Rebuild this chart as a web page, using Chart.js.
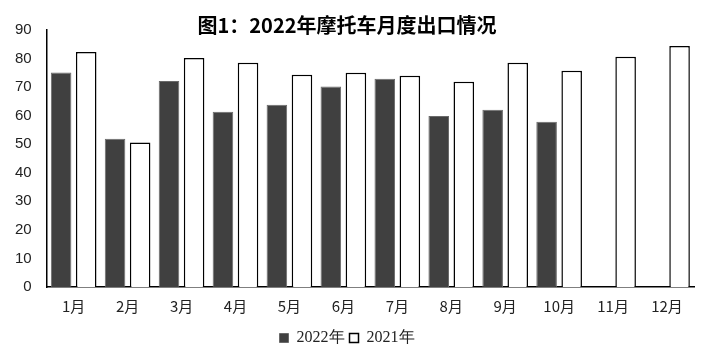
<!DOCTYPE html>
<html>
<head>
<meta charset="utf-8">
<script src="https://cdn.jsdelivr.net/npm/chart.js@4"></script>
<style>
  body { margin: 0; background: #fff; }
  #wrap { width: 702px; height: 361px; }
</style>
</head>
<body>
<div id="wrap"><canvas id="myChart" width="702" height="361"></canvas></div>
<script>
  const months = ["1月", "2月", "3月", "4月", "5月", "6月", "7月", "8月", "9月", "10月", "11月", "12月"]
  const exports2022 = [75.1, 51.9, 72.1, 61.4, 63.8, 70.2, 72.9, 59.9, 62.1, 57.9, null, null]
  const exports2021 = [82.3, 50.6, 80.2, 78.5, 74.3, 75.0, 74.0, 71.9, 78.5, 75.7, 80.6, 84.4]
  const titleText = "图1：2022年摩托车月度出口情况"

  function drawChart() {
    const ctx = document.getElementById("myChart")
    new Chart(ctx, {
      type: "bar",
      data: {
        labels: months,
        datasets: [
          {
            label: "2022年",
            data: exports2022,
            backgroundColor: "#404040",
            borderColor: "#6a6a6a",
            // no outline for the missing months
            borderWidth: (c) => (c.raw == null ? 0 : 1),
            categoryPercentage: 0.93,
            barPercentage: 0.82,
          },
          {
            label: "2021年",
            data: exports2021,
            backgroundColor: "#ffffff",
            borderColor: "#000000",
            borderWidth: 1.5,
            categoryPercentage: 0.93,
            barPercentage: 0.82,
          },
        ],
      },
      options: {
        responsive: false,
        animation: false,
        layout: { padding: { left: 0, right: 8, top: 0, bottom: 5 } },
        plugins: {
          title: {
            display: true,
            text: titleText,
            color: "#000",
            font: { family: "'Noto Sans CJK SC', sans-serif", size: 20, weight: "bold" },
            padding: { top: 13, bottom: -7 },
          },
          legend: {
            position: "bottom",
            labels: {
              color: "#222",
              boxWidth: 9,
              boxHeight: 9,
              padding: 5,
              font: { family: "'Liberation Serif', serif", size: 16 },
            },
          },
          tooltip: { enabled: false },
        },
        scales: {
          x: {
            z: 1,
            grid: { display: false, drawTicks: false, tickLength: 0 },
            border: { color: "#000", width: 1.5 },
            ticks: {
              color: "#222",
              padding: 10,
              font: { family: "'Noto Sans CJK SC', sans-serif", size: 15 },
            },
          },
          y: {
            min: 0,
            max: 90,
            grid: { display: false, drawTicks: false, tickLength: 0 },
            border: { color: "#000", width: 1.5 },
            ticks: {
              stepSize: 10,
              color: "#222",
              padding: 15,
              font: { family: "'Liberation Sans', sans-serif", size: 15 },
            },
          },
        },
      },
    })
  }

  document.addEventListener("DOMContentLoaded", drawChart)
</script>
</body>
</html>
